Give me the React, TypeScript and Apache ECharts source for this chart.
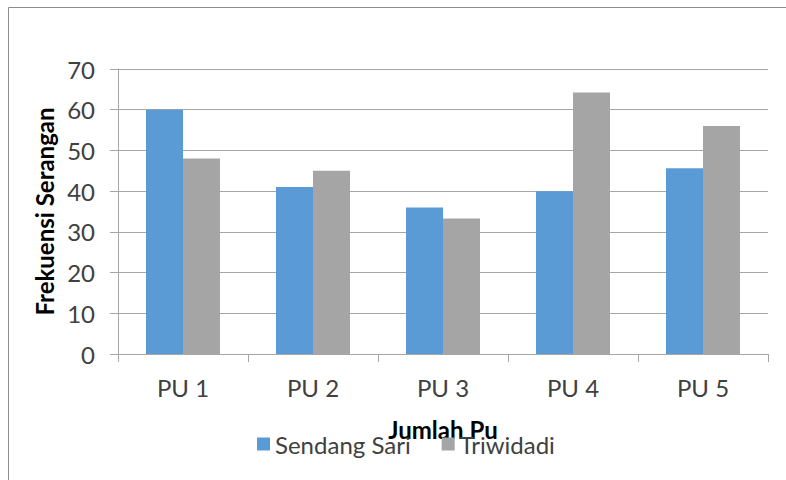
import React, { useEffect, useRef } from "react";
import * as echarts from "echarts";

const categories = ["PU 1", "PU 2", "PU 3", "PU 4", "PU 5"];
const sendangSari = [60, 41, 36, 40, 45.6];
const triwidadi = [48, 45, 33.3, 64.2, 56];
const seriesNames = ["Sendang Sari", "Triwidadi"];
const xAxisTitle = "Jumlah Pu";
const yAxisTitle = "Frekuensi Serangan";

const FONT = "Lato";

export default function App() {
  const ref = useRef<HTMLDivElement>(null);
  useEffect(() => {
    if (!ref.current) return;
    const chart = echarts.init(ref.current, null, { renderer: "svg" });
    chart.setOption({
      animation: false,
      backgroundColor: "#ffffff",
      textStyle: { fontFamily: FONT },
      grid: { left: 118, top: 69, width: 650, height: 285 },
      legend: {
        data: seriesNames,
        left: 252,
        top: 427,
        icon: "rect",
        itemWidth: 13,
        itemHeight: 13,
        itemGap: 31,
        textStyle: { fontFamily: FONT, fontSize: 24, color: "#404040", padding: [0, 0, 0, 0] },
      },
      graphic: [
        {
          type: "rect",
          shape: { x: 8.5, y: 7.5, width: 820, height: 520 },
          style: { fill: "none", stroke: "#8c8c8c", lineWidth: 1 },
          silent: true,
        },
      ],
      xAxis: {
        type: "category",
        data: categories,
        name: xAxisTitle,
        nameLocation: "middle",
        nameGap: 63,
        nameTextStyle: { fontFamily: FONT, fontSize: 24, fontWeight: "bold", color: "#000" },
        axisLine: { show: true, lineStyle: { color: "#a6a6a6", width: 1 } },
        axisTick: { show: true, length: 8, lineStyle: { color: "#a6a6a6" } },
        axisLabel: { fontFamily: FONT, fontSize: 24, color: "#404040", margin: 21 },
      },
      yAxis: {
        type: "value",
        min: 0,
        max: 70,
        interval: 10,
        name: yAxisTitle,
        nameLocation: "middle",
        nameGap: 60,
        nameRotate: 90,
        nameTextStyle: { fontFamily: FONT, fontSize: 24, fontWeight: "bold", color: "#000" },
        axisLine: { show: true, lineStyle: { color: "#a6a6a6", width: 1 } },
        axisTick: { show: true, length: 8, lineStyle: { color: "#a6a6a6" } },
        axisLabel: { fontFamily: FONT, fontSize: 24, color: "#404040", margin: 23 },
        splitLine: { show: true, lineStyle: { color: "#a6a6a6", width: 1 } },
      },
      series: [
        {
          name: seriesNames[0],
          type: "bar",
          data: sendangSari,
          barWidth: 37,
          barGap: "0%",
          itemStyle: { color: "#5b9bd5" },
        },
        {
          name: seriesNames[1],
          type: "bar",
          data: triwidadi,
          barWidth: 37,
          barGap: "0%",
          itemStyle: { color: "#a5a5a5" },
        },
      ],
    });
    return () => chart.dispose();
  }, []);
  return <div ref={ref} style={{ width: 786, height: 480, position: "absolute", left: 0, top: 0 }} />;
}
